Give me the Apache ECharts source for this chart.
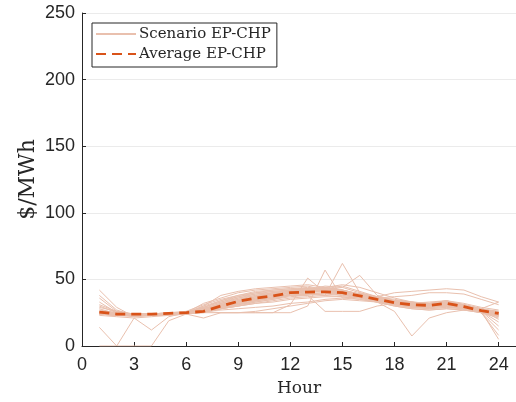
<!DOCTYPE html>
<html>
<head>
<meta charset="utf-8">
<script src="https://cdn.jsdelivr.net/npm/echarts@6/dist/echarts.min.js"></script>
<style>
html,body{margin:0;padding:0;background:#fff;}
#chart{width:516px;height:402px;}
</style>
</head>
<body>
<div id="chart"></div>
<script>
const hours = [1,2,3,4,5,6,7,8,9,10,11,12,13,14,15,16,17,18,19,20,21,22,23,24];
const xTicks = [0,3,6,9,12,15,18,21,24];
const yTicks = [0,50,100,150,200,250];

const average = [25.5,24,24,24,24.5,25,26,30,33.5,36,37.5,40,40.5,40.7,40,37.7,35,32.5,31,30.5,32,29.5,26.5,24.5];

const s1  = [42,29,22,23,24,25,30,38,41,43,44,45,46,44,42,38,36,33,32,33,34,30,27,25];
const s2  = [38,27,23,24,24,25,32,36,40,42,43,44,45,42,40,37,35,34,33,32,34,31,28,24];
const s3  = [36,26,24,24,25,26,31,35,38,41,42,43,44,43,41,39,36,33,31,30,31,29,26,22];
const s4  = [33,25,24,23,24,25,29,33,37,40,41,42,43,42,41,39,37,35,33,31,32,30,27,23];
const s5  = [30,25,23,24,24,24,28,32,35,38,40,41,42,41,40,38,35,32,30,29,30,28,26,25];
const s6  = [28,24,23,23,24,25,27,31,34,37,39,40,41,42,40,38,36,33,31,31,33,30,26,24];
const s7  = [26,24,24,24,24,25,27,30,33,36,38,40,41,43,42,39,36,33,32,31,32,30,27,26];
const s8  = [25,23,23,23,24,24,26,29,32,34,36,38,40,42,44,40,37,34,32,31,32,30,26,18];
const s9  = [24,23,22,23,23,24,26,28,31,34,36,39,41,43,45,41,37,33,31,30,31,29,25,12];
const s10 = [24,24,23,24,24,25,27,30,32,35,37,39,40,41,40,38,36,34,33,32,33,31,28,33];
const s11 = [25,24,24,24,25,25,28,31,33,35,36,38,39,40,39,37,34,31,29,28,29,28,25,21];
const s12 = [23,22,21,22,23,24,25,28,30,33,35,37,38,39,38,36,33,30,28,27,28,27,25,8];
const s13 = [14,0,21,12,22,25,27,29,32,34,36,38,39,40,39,37,34,31,29,29,30,28,26,24];
const s14 = [0,0,0,0,19,24,26,28,30,32,34,36,37,38,37,35,33,31,30,29,30,28,26,5];
const s15 = [26,25,24,23,24,24,21,25,25,25,25,31,51,40,38,37,35,33,32,31,32,30,27,24];
const s16 = [25,24,23,24,24,24,26,25,25,25,25,25,30,57,36,35,33,31,30,29,30,28,25,22];
const s17 = [24,23,23,23,24,25,27,29,31,33,35,38,39,38,62,40,36,33,31,30,31,29,26,24];
const s18 = [25,24,23,24,24,25,28,31,34,36,38,40,42,45,44,53,38,34,32,31,32,30,27,25];
const s19 = [25,24,24,24,25,25,27,30,33,35,37,38,38,26,26,26,30,32,31,30,31,29,27,23];
const s20 = [25,24,23,23,24,25,28,32,35,37,39,40,41,42,40,37,33,26,7.5,21,25,27,25,23];
const s21 = [24,23,23,23,24,25,29,34,38,40,42,43,43,42,41,38,37,40,41,42,43,42,37,33];
const s22 = [25,24,23,23,24,24,26,27,28,29,30,32,33,35,36,37,36,37,38,40,40,39,35,31];
const s23 = [25,24,24,24,24,25,25,25,25,26,28,30,32,34,35,34,33,30,28,27,28,27,26,15];
const s24 = [24,23,23,23,24,25,27,29,31,34,37,40,42,44,46,44,40,36,33,31,32,30,27,20];
const s25 = [26,25,24,24,24,25,28,31,34,37,40,42,43,44,42,39,36,33,31,31,33,31,28,26];
const s26 = [25,24,23,23,24,24,26,28,30,32,33,35,36,37,37,36,34,31,29,28,29,28,25,23];
const s27 = [27,25,24,24,24,25,29,33,36,39,41,42,43,43,42,39,36,34,32,31,33,31,28,25];
const s28 = [29,26,24,23,24,25,30,34,37,39,40,41,42,42,41,38,35,33,32,32,34,32,29,27];
const s29 = [24,23,23,24,24,25,27,30,33,36,38,40,41,42,41,38,35,32,30,29,31,29,27,24];
const s30 = [31,26,23,23,24,24,28,32,36,38,39,41,42,41,39,37,34,32,30,30,31,29,26,23];

const scenarios = [s1,s2,s3,s4,s5,s6,s7,s8,s9,s10,s11,s12,s13,s14,s15,s16,s17,s18,s19,s20,s21,s22,s23,s24,s25,s26,s27,s28,s29,s30];

const scenarioName = 'Scenario EP-CHP';
const averageName = 'Average EP-CHP';
const axisColor = '#262626';
const serif = '"DejaVu Serif", "Liberation Serif", serif';
const sans = '"Liberation Sans", Arial, Helvetica, sans-serif';

const pair = arr => hours.map((h, i) => [h, arr[i]]);

const series = scenarios.map(s => ({
  name: scenarioName,
  type: 'line',
  data: pair(s),
  symbol: 'none',
  silent: true,
  z: 2,
  lineStyle: { color: '#e9c0ae', width: 1 },
  itemStyle: { color: '#e9c0ae' }
}));
series.push({
  name: averageName,
  type: 'line',
  data: pair(average),
  symbol: 'none',
  silent: true,
  z: 5,
  lineStyle: { color: '#d95319', width: 2.8, type: [10, 6] },
  itemStyle: { color: '#d95319' }
});

const chart = echarts.init(document.getElementById('chart'), null, { renderer: 'canvas' });
chart.setOption({
  animation: false,
  backgroundColor: '#ffffff',
  grid: { left: 82, right: 0, top: 13, bottom: 56, containLabel: false },
  legend: {
    data: [scenarioName, averageName],
    orient: 'vertical',
    left: 92,
    top: 23,
    padding: [3, 6, 5, 3],
    itemGap: 4,
    itemWidth: 40,
    itemHeight: 16,
    backgroundColor: '#ffffff',
    borderColor: axisColor,
    borderWidth: 1,
    borderRadius: 0,
    selectedMode: false,
    itemStyle: { opacity: 0, borderWidth: 0 },
    textStyle: { fontFamily: serif, fontSize: 15, color: axisColor, lineHeight: 16, padding: [0,0,0,-2] }
  },
  xAxis: {
    type: 'value',
    min: 0,
    max: 25,
    interval: 3,
    name: 'Hour',
    nameLocation: 'middle',
    nameGap: 34,
    nameMoveOverlap: false,
    nameTextStyle: { fontFamily: serif, fontSize: 17, color: axisColor },
    axisLine: { show: true, lineStyle: { color: axisColor, width: 1 } },
    axisTick: { show: true, inside: true, length: 4, lineStyle: { color: axisColor } },
    axisLabel: { color: axisColor, fontFamily: sans, fontSize: 18, margin: 10, showMaxLabel: false,
      formatter: v => (xTicks.indexOf(v) >= 0 ? String(v) : '') },
    splitLine: { show: false }
  },
  yAxis: {
    type: 'value',
    min: 0,
    max: 250,
    interval: 50,
    name: '$/MWh',
    nameLocation: 'middle',
    nameGap: 43,
    nameMoveOverlap: false,
    nameRotate: 90,
    nameTextStyle: { fontFamily: serif, fontSize: 22, color: axisColor },
    axisLine: { show: true, lineStyle: { color: axisColor, width: 1 } },
    axisTick: { show: true, inside: true, length: 4, lineStyle: { color: axisColor } },
    axisLabel: { color: axisColor, fontFamily: sans, fontSize: 18, margin: 7,
      formatter: v => (yTicks.indexOf(v) >= 0 ? String(v) : '') },
    splitLine: { show: true, lineStyle: { color: '#ebebeb', width: 1 } }
  },
  series: series
});
</script>
</body>
</html>
